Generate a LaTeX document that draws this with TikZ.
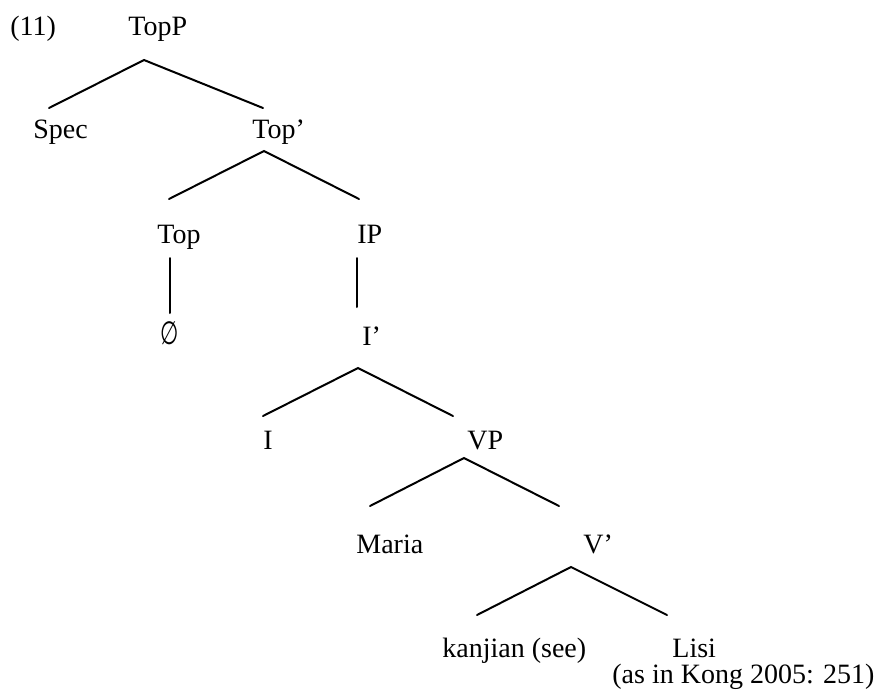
\documentclass[tikz,border=0pt]{standalone}
\usepackage{fontspec}
\setmainfont{Liberation Serif}
\newfontfamily\emptysetfont{DejaVu Sans}
\begin{document}
\begin{tikzpicture}[x=0.5pt,y=-0.5pt,
  lbl/.style={anchor=base west, inner sep=0pt, font=\fontsize{14}{17}\selectfont},
  br/.style={line width=1pt, line cap=round}]
\useasboundingbox (0,0) rectangle (885,697);
% labels
\node[lbl] (ex)    at (10,35)   {(11)};
\node[lbl] (topp)  at (128,35)  {TopP};
\node[lbl] (spec)  at (33,138)  {Spec};
\node[lbl] (topb)  at (252,138) {Top’};
\node[lbl] (top)   at (157,243) {Top};
\node[lbl] (ip)    at (357,243) {IP};
\node[lbl] (empty) at (160,344) {\scalebox{0.75}[1.15]{\emptysetfont ∅}};
\node[lbl] (ib)    at (362,345) {I’};
\node[lbl] (i)     at (263,449) {I};
\node[lbl] (vp)    at (467,449) {VP};
\node[lbl] (maria) at (356,553) {Maria};
\node[lbl] (vb)    at (583,553) {V’};
\node[lbl] (kanj)  at (442,657) {kanjian (see)};
\node[lbl] (lisi)  at (672,657) {Lisi};
\node[lbl] (src)   at (612,683) {(as in Kong 2005: 251)};
% branch points
\coordinate (a1) at (144,60);  \coordinate (a1l) at (49,108);  \coordinate (a1r) at (263,108);
\coordinate (a2) at (264,151); \coordinate (a2l) at (169,199); \coordinate (a2r) at (359,199);
\coordinate (t1) at (170,258); \coordinate (t2) at (170,313);
\coordinate (p1) at (357,258); \coordinate (p2) at (357,307);
\coordinate (a3) at (358,368); \coordinate (a3l) at (263,416); \coordinate (a3r) at (453,416);
\coordinate (a4) at (464,458); \coordinate (a4l) at (370,506); \coordinate (a4r) at (559,506);
\coordinate (a5) at (571,567); \coordinate (a5l) at (477,615); \coordinate (a5r) at (667,615);
% branches
\draw[br] (a1l) -- (a1) -- (a1r);
\draw[br] (a2l) -- (a2) -- (a2r);
\draw[br] (t1) -- (t2);
\draw[br] (p1) -- (p2);
\draw[br] (a3l) -- (a3) -- (a3r);
\draw[br] (a4l) -- (a4) -- (a4r);
\draw[br] (a5l) -- (a5) -- (a5r);
\end{tikzpicture}
\end{document}
